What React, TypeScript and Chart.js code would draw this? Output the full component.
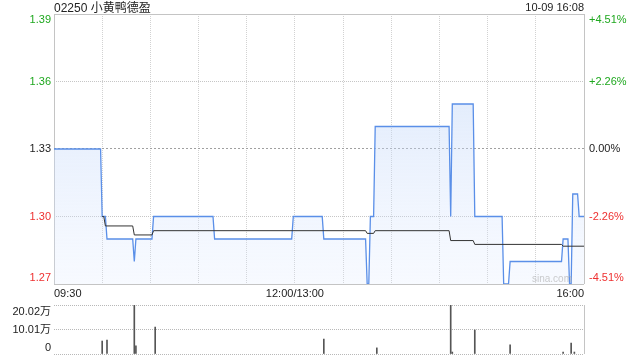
import React, { useEffect, useRef } from 'react';
import { Chart, registerables } from 'chart.js';

Chart.register(...registerables);

const TITLE = '02250 小黄鸭德盈';
const STAMP = '10-09 16:08';
const WATERMARK = 'sina.com';
const PREV_CLOSE = 1.33;

const PRICE_TICKS = [1.27, 1.3, 1.33, 1.36, 1.39];
const PCT_LABELS = ['-4.51%', '-2.26%', '0.00%', '+2.26%', '+4.51%'];
const TIME_TICKS = [0, 150, 330];
const TIME_LABELS = ['09:30', '12:00/13:00', '16:00'];
const VOL_TICKS = [0, 100100, 200200];
const VOL_LABELS = ['0', '10.01万', '20.02万'];

// minutes since 09:30 (lunch break removed) and price
const PRICE_T = [0, 29, 30, 32, 33, 49, 50, 51, 61, 62, 99, 100, 148, 149, 167, 168, 194, 195, 196, 197, 199, 200, 246, 247, 248, 261, 262, 279, 280, 283, 284, 316, 317, 320, 321, 322, 323, 326, 327, 330];
const PRICE_V = [1.33, 1.33, 1.3, 1.3, 1.29, 1.29, 1.28, 1.29, 1.29, 1.3, 1.3, 1.29, 1.29, 1.3, 1.3, 1.29, 1.29, 1.27, 1.27, 1.3, 1.3, 1.34, 1.34, 1.3, 1.35, 1.35, 1.3, 1.3, 1.27, 1.27, 1.28, 1.28, 1.29, 1.29, 1.27, 1.27, 1.31, 1.31, 1.3, 1.3];

const AVG_T = [30, 31, 32, 49, 50, 61, 62, 194, 195, 199, 200, 246, 247, 261, 262, 316, 317, 330];
const AVG_V = [1.3, 1.3, 1.2958, 1.2958, 1.2918, 1.2918, 1.2937, 1.2937, 1.2925, 1.2925, 1.2937, 1.2937, 1.2893, 1.2893, 1.2876, 1.2876, 1.2868, 1.2868];

const VOL_T = [30, 33, 50, 51, 63, 168, 201, 247, 248, 262, 284, 317, 322, 324];
const VOL_V = [53000, 57000, 200200, 33000, 110000, 61000, 25000, 200200, 8000, 98000, 37000, 8000, 45000, 8000];

const FONT = '"Liberation Sans", Arial, "Noto Sans CJK SC", sans-serif';
const GREEN = '#1fa81f';
const RED = '#ee3030';
const DARK = '#222222';
const GRID = '#c6c6c6';
const VGRID = '#d2d2d2';
const BORDER = '#c4c4c4';

export default function App() {
  const mainRef = useRef<HTMLCanvasElement>(null);
  const volRef = useRef<HTMLCanvasElement>(null);

  useEffect(() => {
    if (!mainRef.current || !volRef.current) return;

    const mainLabels = {
      id: 'mainLabels',
      afterDraw(chart: any) {
        const ctx = chart.ctx;
        const area = chart.chartArea;
        const y = chart.scales.y;
        const x = chart.scales.x;
        ctx.save();
        ctx.font = `11px ${FONT}`;
        ctx.textBaseline = 'middle';
        PRICE_TICKS.forEach((v, i) => {
          let py = y.getPixelForValue(v);
          if (i === 0) py -= 6;
          if (i === PRICE_TICKS.length - 1) py += 6;
          const color = v > PREV_CLOSE + 1e-9 ? GREEN : v < PREV_CLOSE - 1e-9 ? RED : DARK;
          ctx.fillStyle = color;
          ctx.textAlign = 'right';
          ctx.fillText(v.toFixed(2), area.left - 3, py);
          ctx.textAlign = 'left';
          ctx.fillText(PCT_LABELS[i], area.right + 5, py);
        });
        ctx.fillStyle = DARK;
        TIME_TICKS.forEach((t, i) => {
          const px = x.getPixelForValue(t);
          ctx.textAlign = i === 0 ? 'left' : i === TIME_TICKS.length - 1 ? 'right' : 'center';
          ctx.fillText(TIME_LABELS[i], px, area.bottom + 10);
        });
        ctx.textBaseline = 'alphabetic';
        ctx.font = `12px ${FONT}`;
        ctx.textAlign = 'left';
        ctx.fillText(TITLE, area.left, 12);
        ctx.font = `11px ${FONT}`;
        ctx.textAlign = 'right';
        ctx.fillText(STAMP, area.right, 11);
        ctx.font = `10px ${FONT}`;
        ctx.fillStyle = 'rgba(170,170,170,0.6)';
        ctx.textAlign = 'left';
        ctx.textBaseline = 'middle';
        ctx.fillText(WATERMARK, area.right - 52, area.bottom - 5);
        ctx.restore();
      },
    };

    const volLabels = {
      id: 'volLabels',
      afterDraw(chart: any) {
        const ctx = chart.ctx;
        const area = chart.chartArea;
        const y = chart.scales.y;
        ctx.save();
        ctx.font = `11px ${FONT}`;
        ctx.textBaseline = 'middle';
        ctx.textAlign = 'right';
        ctx.fillStyle = DARK;
        VOL_TICKS.forEach((v, i) => {
          let py = y.getPixelForValue(v);
          if (i === 0) py -= 6;
          if (i === VOL_TICKS.length - 1) py += 6.5;
          ctx.fillText(VOL_LABELS[i], area.left - 3, py);
        });
        ctx.restore();
      },
    };

    const main = new Chart(mainRef.current, {
      type: 'line',
      data: {
        datasets: [
          {
            data: PRICE_T.map((t, i) => ({ x: t, y: PRICE_V[i] })),
            borderColor: '#5a8fe8',
            borderWidth: 1.3,
            pointRadius: 0,
            tension: 0,
            fill: 'start',
            backgroundColor: (c: any) => {
              const { ctx, chartArea } = c.chart;
              if (!chartArea) return 'rgba(190,212,246,0.45)';
              const g = ctx.createLinearGradient(0, chartArea.top, 0, chartArea.bottom);
              g.addColorStop(0, 'rgba(178,204,245,0.55)');
              g.addColorStop(1, 'rgba(220,232,255,0.22)');
              return g;
            },
            order: 2,
          },
          {
            data: AVG_T.map((t, i) => ({ x: t, y: AVG_V[i] })),
            borderColor: '#333333',
            borderWidth: 1,
            pointRadius: 0,
            tension: 0,
            fill: false,
            order: 1,
          },
        ],
      },
      options: {
        responsive: false,
        animation: false,
        devicePixelRatio: 1,
        layout: { padding: { left: 54, right: 56, top: 14, bottom: 16 } },
        plugins: { legend: { display: false }, tooltip: { enabled: false } },
        scales: {
          x: {
            type: 'linear',
            min: 0,
            max: 330,
            ticks: { display: false, stepSize: 30 },
            grid: {
              drawTicks: false,
              color: (c: any) => (c.index === 0 || c.index === 11 ? BORDER : VGRID),
            },
            border: {
              display: false,
              dash: (c: any) => (c.index === 0 || c.index === 11 ? [] : [1, 1]),
            },
            afterFit: (s: any) => {
              s.height = 0;
            },
          },
          y: {
            type: 'linear',
            min: 1.27,
            max: 1.39,
            afterBuildTicks: (s: any) => {
              s.ticks = PRICE_TICKS.map((v) => ({ value: v }));
            },
            ticks: { display: false },
            grid: {
              drawTicks: false,
              color: (c: any) => {
                const v = c.tick ? c.tick.value : 0;
                if (Math.abs(v - 1.27) < 1e-6 || Math.abs(v - 1.39) < 1e-6) return BORDER;
                if (Math.abs(v - PREV_CLOSE) < 1e-6) return '#a0a0a0';
                return GRID;
              },
            },
            border: {
              display: false,
              dash: (c: any) => {
                const v = c.tick ? c.tick.value : 0;
                if (Math.abs(v - 1.27) < 1e-6 || Math.abs(v - 1.39) < 1e-6) return [];
                if (Math.abs(v - PREV_CLOSE) < 1e-6) return [2, 2];
                return [1, 1];
              },
            },
            afterFit: (s: any) => {
              s.width = 0;
            },
          },
        },
      },
      plugins: [mainLabels],
    } as any);

    const vol = new Chart(volRef.current, {
      type: 'bar',
      data: {
        datasets: [
          {
            data: VOL_T.map((t, i) => ({ x: t, y: VOL_V[i] })),
            backgroundColor: '#555555',
            barThickness: 1,
          },
        ],
      },
      options: {
        responsive: false,
        animation: false,
        devicePixelRatio: 1,
        layout: { padding: { left: 54, right: 56, top: 5, bottom: 6 } },
        plugins: { legend: { display: false }, tooltip: { enabled: false } },
        scales: {
          x: {
            type: 'linear',
            min: 0,
            max: 330,
            offset: false,
            ticks: { display: false, stepSize: 30 },
            grid: {
              drawTicks: false,
              offset: false,
              color: (c: any) => (c.index === 11 ? BORDER : 'rgba(0,0,0,0)'),
            },
            border: { display: false },
            afterFit: (s: any) => {
              s.height = 0;
            },
          },
          y: {
            type: 'linear',
            min: 0,
            max: 200200,
            afterBuildTicks: (s: any) => {
              s.ticks = VOL_TICKS.map((v) => ({ value: v }));
            },
            ticks: { display: false },
            grid: { drawTicks: false, color: '#b8b8b8' },
            border: { display: false, dash: [1, 1] },
            afterFit: (s: any) => {
              s.width = 0;
            },
          },
        },
      },
      plugins: [volLabels],
    } as any);

    return () => {
      main.destroy();
      vol.destroy();
    };
  }, []);

  return (
    <div style={{ position: 'fixed', left: 0, top: 0, width: 640, height: 360, background: '#ffffff' }}>
      <canvas
        ref={mainRef}
        width={640}
        height={300}
        style={{ position: 'absolute', left: 0, top: 0, width: 640, height: 300 }}
      />
      <canvas
        ref={volRef}
        width={640}
        height={60}
        style={{ position: 'absolute', left: 0, top: 300, width: 640, height: 60 }}
      />
    </div>
  );
}
